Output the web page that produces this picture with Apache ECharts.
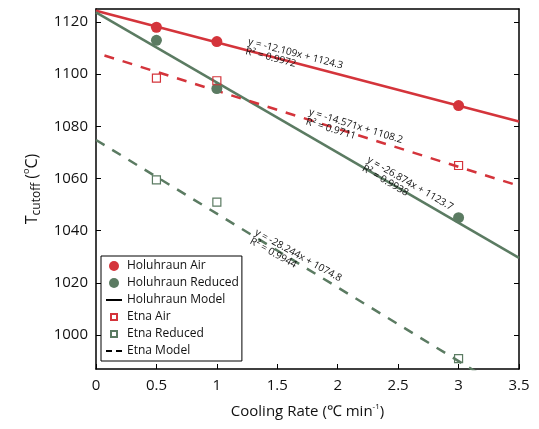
<!DOCTYPE html>
<html>
<head>
<meta charset="utf-8">
<script src="https://cdn.jsdelivr.net/npm/echarts@6/dist/echarts.min.js"></script>
<style>html,body{margin:0;padding:0;background:#fff;}#c{width:539px;height:429px;}</style>
</head>
<body>
<div id="c"></div>
<script>
// ---- data ----
const rates = [0.5, 1, 3];
const holuhraunAir = [1118, 1112.5, 1088];
const holuhraunReduced = [1113, 1094.5, 1045];
const etnaAir = [1098.5, 1097.5, 1065];
const etnaReduced = [1059.5, 1051, 991];

// fitted model lines (end points)
const holAirModelX = [0, 3.5];
const holAirModelY = [1124.3, 1081.9];
const holRedModelX = [0, 3.5];
const holRedModelY = [1123.7, 1029.6];
const etnaAirModelX = [0.07, 3.5];
const etnaAirModelY = [1107.2, 1057.2];
const etnaRedModelX = [0, 3.5];
const etnaRedModelY = [1074.8, 975.9];

const xTicks = [0, 0.5, 1, 1.5, 2, 2.5, 3, 3.5];
const yTicks = [1000, 1020, 1040, 1060, 1080, 1100, 1120];

const legendNames = ['Holuhraun Air', 'Holuhraun Reduced', 'Holuhraun Model', 'Etna Air', 'Etna Reduced', 'Etna Model'];

const fitTexts = [
  'y = -12.109x + 1124.3\nR² = 0.9972',
  'y = -14.571x + 1108.2\nR² = 0.9711',
  'y = -26.874x + 1123.7\nR² = 0.9938',
  'y = -28.244x + 1074.8\nR² = 0.9944'
];
const fitAnchorX = [1.27, 1.775, 2.27, 1.34];
const fitAnchorY = [1114.4, 1087.4, 1069.1, 1041.3];
const fitAngle = [14.5, 17, 30, 29];

const RED = '#d4343b';
const GREEN = '#5b7b62';
const FONT = 'Open Sans';

const zip = (xs, ys) => xs.map((x, i) => [x, ys[i]]);

const chart = echarts.init(document.getElementById('c'), null, {renderer: 'canvas'});

const ICON_LINE = 'path://M0,4H16V6H0Z';
const ICON_DASH = 'path://M0,4H6V6H0ZM10,4H16V6H10Z';
const ICON_SQUARE = 'path://M0,0M16,10M5,2H11V8H5Z';
const ICON_CIRCLE = 'circle';
const legendIcons = [ICON_CIRCLE, ICON_CIRCLE, ICON_LINE, ICON_SQUARE, ICON_SQUARE, ICON_DASH];

const option = {
  backgroundColor: '#fff',
  animation: false,
  textStyle: {fontFamily: FONT},
  grid: {left: 96, right: 20, top: 9, bottom: 60},
  xAxis: [{
    type: 'value', min: 0, max: 3.5, interval: 0.5,
    name: '{a|Cooling Rate (℃ min}{s|-1}{a|)}',
    nameLocation: 'middle', nameGap: 34,
    nameTextStyle: {rich: {
      a: {fontFamily: FONT, fontSize: 15, color: '#111'},
      s: {fontFamily: FONT, fontSize: 8, color: '#111', verticalAlign: 'top', padding: [0,0,10,0]}
    }},
    axisLine: {show: true, onZero: false, lineStyle: {color: '#000', width: 1.5}},
    axisTick: {show: true, inside: true, length: 5, lineStyle: {color: '#000'}},
    axisLabel: {fontFamily: FONT, fontSize: 15, color: '#111', margin: 9,
      formatter: v => String(v)},
    splitLine: {show: false}
  }, {
    type: 'value', min: 0, max: 3.5, interval: 0.5, position: 'top',
    axisLine: {show: true, onZero: false, lineStyle: {color: '#000', width: 1.5}},
    axisTick: {show: false}, axisLabel: {show: false}, splitLine: {show: false}
  }],
  yAxis: [{
    type: 'value', min: 987, max: 1125,
    name: '{a|T}{b|cutoff}{a| (}{s|o}{a|C)}',
    nameLocation: 'middle', nameGap: 52, nameRotate: 90,
    nameTextStyle: {rich: {
      a: {fontFamily: FONT, fontSize: 16, color: '#111'},
      b: {fontFamily: FONT, fontSize: 12, color: '#111', verticalAlign: 'bottom', padding: [4,0,0,0]},
      s: {fontFamily: FONT, fontSize: 9, color: '#111', verticalAlign: 'top', padding: [0,0,12,0]}
    }},
    axisLine: {show: true, onZero: false, lineStyle: {color: '#000', width: 1.5}},
    axisTick: {show: true, inside: true, length: 5, customValues: yTicks, lineStyle: {color: '#000'}},
    axisLabel: {fontFamily: FONT, fontSize: 15, color: '#111', margin: 8, customValues: yTicks,
      formatter: v => String(v)},
    splitLine: {show: false}
  }, {
    type: 'value', min: 987, max: 1125, position: 'right',
    axisLine: {show: true, onZero: false, lineStyle: {color: '#000', width: 1.5}},
    axisTick: {show: true, inside: true, length: 5, customValues: yTicks, lineStyle: {color: '#000'}},
    axisLabel: {show: false}, splitLine: {show: false}
  }],
  legend: {
    orient: 'vertical', left: 101, top: 256,
    backgroundColor: '#fff', borderColor: '#000', borderWidth: 1,
    padding: [4, 3, 4, 4], itemGap: 5, itemWidth: 16, itemHeight: 10,
    symbolKeepAspect: true,
    selectedMode: false,
    textStyle: {fontFamily: FONT, fontSize: 12, color: '#111'},
    data: legendNames.map((n, i) => ({name: n, icon: legendIcons[i]}))
  },
  series: [
    {name: 'fit1', type: 'line', data: zip(holAirModelX, holAirModelY), symbol: 'none', silent: true,
     lineStyle: {color: RED, width: 2.5}, z: 2},
    {name: 'fit2', type: 'line', data: zip(holRedModelX, holRedModelY), symbol: 'none', silent: true,
     lineStyle: {color: GREEN, width: 2.5}, z: 2},
    {name: 'fit3', type: 'line', data: zip(etnaAirModelX, etnaAirModelY), symbol: 'none', silent: true,
     lineStyle: {color: RED, width: 2.5, type: [10, 9]}, z: 2},
    {name: 'fit4', type: 'line', data: zip(etnaRedModelX, etnaRedModelY), symbol: 'none', silent: true,
     lineStyle: {color: GREEN, width: 2.5, type: [10, 9]}, z: 2},
    {name: legendNames[0], type: 'scatter', data: zip(rates, holuhraunAir), symbol: 'circle', symbolSize: 11,
     itemStyle: {color: RED, opacity: 1}, z: 4},
    {name: legendNames[1], type: 'scatter', data: zip(rates, holuhraunReduced), symbol: 'circle', symbolSize: 11,
     itemStyle: {color: GREEN, opacity: 1}, z: 4},
    {name: legendNames[2], type: 'scatter', data: [], itemStyle: {color: '#000', opacity: 1}},
    {name: legendNames[3], type: 'scatter', data: zip(rates, etnaAir), symbol: 'rect', symbolSize: 8,
     itemStyle: {color: 'rgba(255,255,255,0)', borderColor: RED, borderWidth: 1.2, opacity: 1}, z: 4},
    {name: legendNames[4], type: 'scatter', data: zip(rates, etnaReduced), symbol: 'rect', symbolSize: 8,
     itemStyle: {color: 'rgba(255,255,255,0)', borderColor: GREEN, borderWidth: 1.2, opacity: 1}, z: 4},
    {name: legendNames[5], type: 'scatter', data: [], itemStyle: {color: '#000', opacity: 1}}
  ]
};
chart.setOption(option);

// equation annotations placed through the chart's own scale
const texts = fitTexts.map((t, i) => {
  const p = chart.convertToPixel({xAxisIndex: 0, yAxisIndex: 0}, [fitAnchorX[i], fitAnchorY[i]]);
  return {
    type: 'text', x: p[0], y: p[1], rotation: -fitAngle[i] * Math.PI / 180, z: 10,
    style: {text: t, fontFamily: FONT, fontSize: 10, lineHeight: 10, fill: '#111',
      align: 'left', verticalAlign: 'top'}
  };
});
chart.setOption({graphic: texts});
</script>
</body>
</html>
